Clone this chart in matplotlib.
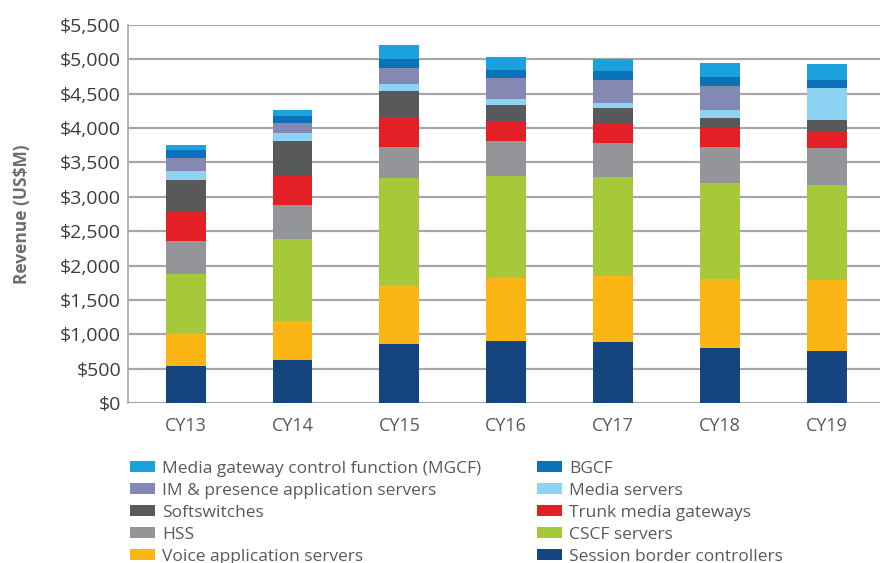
#!/usr/bin/env python3
"""IMS core / VoIP infrastructure revenue by segment, stacked bars CY13-CY19."""

from __future__ import annotations

import numpy as np
import matplotlib

matplotlib.use("Agg")
import matplotlib.pyplot as plt
from matplotlib.patches import Patch

plt.rcParams["font.family"] = ["Open Sans", "DejaVu Sans"]

YEARS = ["CY13", "CY14", "CY15", "CY16", "CY17", "CY18", "CY19"]

# stack order, bottom to top (US$M)
SBC = [540, 625, 860, 905, 890, 800, 755]
VOICE_APP = [465, 570, 845, 915, 960, 1005, 1035]
CSCF = [875, 1195, 1575, 1485, 1440, 1400, 1385]
HSS = [480, 495, 450, 510, 495, 525, 540]
TRUNK_MGW = [425, 435, 435, 280, 280, 275, 235]
SOFTSWITCH = [460, 495, 380, 245, 230, 145, 170]
MEDIA_SERVERS = [130, 115, 90, 90, 70, 115, 465]
IM_PRESENCE = [190, 145, 235, 305, 335, 350, 0]
BGCF = [115, 100, 130, 115, 130, 130, 115]
MGCF = [75, 90, 205, 190, 175, 205, 235]

SERIES = [
    ("Session border controllers", SBC, "#15457f"),
    ("Voice application servers", VOICE_APP, "#fbb615"),
    ("CSCF servers", CSCF, "#a6c93a"),
    ("HSS", HSS, "#939598"),
    ("Trunk media gateways", TRUNK_MGW, "#e51f26"),
    ("Softswitches", SOFTSWITCH, "#58595b"),
    ("Media servers", MEDIA_SERVERS, "#8dd4f4"),
    ("IM & presence application servers", IM_PRESENCE, "#8489b3"),
    ("BGCF", BGCF, "#0a72b9"),
    ("Media gateway control function (MGCF)", MGCF, "#1ba2dd"),
]

TEXT = "#3d3d3f"
GRID = "#a5a7aa"


def main() -> None:
    fig = plt.figure(figsize=(8.8, 5.63), dpi=100)
    ax = fig.add_axes([0.1455, 0.2842, 0.8545, 0.6714])

    x = np.arange(len(YEARS))
    bottom = np.zeros(len(YEARS))
    for name, vals, color in SERIES:
        ax.bar(x, vals, width=0.373, bottom=bottom, color=color, zorder=3, linewidth=0)
        bottom += np.array(vals, dtype=float)

    ax.set_ylim(0, 5500)
    ax.set_xlim(-0.54, 6.5)
    ax.set_yticks(np.arange(0, 5501, 500))
    ax.set_yticklabels([f"${v:,}" for v in range(0, 5501, 500)], fontsize=14, color=TEXT)
    ax.set_xticks(x)
    ax.set_xticklabels(YEARS, fontsize=13, color="#58595b")
    ax.tick_params(axis="y", length=0, pad=5)
    ax.tick_params(axis="x", length=0, pad=10)
    ax.yaxis.grid(True, color=GRID, linewidth=1.6, zorder=0)
    ax.set_axisbelow(True)
    for side in ("top", "right", "bottom"):
        ax.spines[side].set_visible(False)
    ax.spines["left"].set_color(GRID)
    ax.spines["left"].set_linewidth(1.2)

    ax.set_ylabel("Revenue (US$M)", fontsize=12.5, fontweight="bold", color="#6d6e71", labelpad=21)

    # legend filled column-wise: left column then right column
    lookup = {name: color for name, _, color in SERIES}
    order = [
        "Media gateway control function (MGCF)",
        "IM & presence application servers",
        "Softswitches",
        "HSS",
        "Voice application servers",
        "BGCF",
        "Media servers",
        "Trunk media gateways",
        "CSCF servers",
        "Session border controllers",
    ]
    handles = [Patch(facecolor=lookup[n], edgecolor="none", label=n) for n in order]
    fig.legend(
        handles=handles,
        loc="upper left",
        bbox_to_anchor=(0.148, 0.181),
        ncol=2,
        frameon=False,
        fontsize=12.5,
        handlelength=1.45,
        handleheight=0.6,
        handletextpad=0.4,
        columnspacing=3.2,
        labelspacing=0.34,
        borderaxespad=0,
        borderpad=0,
        labelcolor="#58595b",
    )

    fig.savefig("out.png", dpi=100)
    plt.close(fig)


if __name__ == "__main__":
    main()
